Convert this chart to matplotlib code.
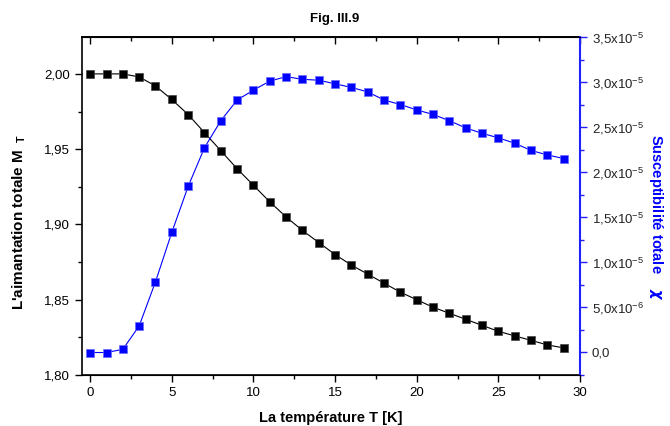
import numpy as np
import matplotlib
matplotlib.use("Agg")
import matplotlib.pyplot as plt
from matplotlib.ticker import MultipleLocator, FuncFormatter, NullFormatter

plt.rcParams['font.family'] = ['Liberation Sans', 'DejaVu Sans']
plt.rcParams['mathtext.fontset'] = 'custom'
plt.rcParams['mathtext.rm'] = 'Liberation Sans'
plt.rcParams['mathtext.bf'] = 'Liberation Sans:bold'
plt.rcParams['mathtext.bfit'] = 'DejaVu Sans:italic:bold'

# temperature T [K]
T = list(range(30))

# total magnetisation M_T (left axis)
M = [2.000, 2.000, 2.000, 1.998, 1.992, 1.983, 1.973, 1.961, 1.949, 1.937,
     1.926, 1.915, 1.905, 1.896, 1.888, 1.880, 1.873, 1.867, 1.861, 1.855,
     1.850, 1.845, 1.841, 1.837, 1.833, 1.829, 1.826, 1.823, 1.820, 1.818]

# total susceptibility chi (right axis)
chi = [-0.05e-6, -0.05e-6, 0.3e-6, 2.9e-6, 7.8e-6, 13.3e-6, 18.4e-6, 22.7e-6,
       25.7e-6, 28.0e-6, 29.1e-6, 30.1e-6, 30.6e-6, 30.3e-6, 30.2e-6, 29.8e-6,
       29.4e-6, 28.9e-6, 28.0e-6, 27.5e-6, 26.9e-6, 26.4e-6, 25.7e-6, 24.9e-6,
       24.3e-6, 23.8e-6, 23.2e-6, 22.4e-6, 21.9e-6, 21.5e-6]


def comma(v, pos):
    return ("%.2f" % v).replace(".", ",")


def sci(v, pos):
    if abs(v) < 1e-12:
        return "0,0"
    e = int(np.floor(np.log10(abs(v)) + 1e-9))
    m = v / 10 ** e
    return ("%.1f" % m).replace(".", ",") + "x10$^{%d}$" % e


fig = plt.figure(figsize=(6.7, 4.26), dpi=100)
ax = fig.add_axes([0.1224, 0.1197, 0.7433, 0.7934])
ax2 = ax.twinx()

ax.plot(T, M, '-', color='black', lw=0.8, marker='s', ms=6,
        mfc='black', mec='#444444', mew=0.5, zorder=3)
ax2.plot(T, chi, '-', color='#0000ff', lw=0.8, marker='s', ms=6,
         mfc='#0000ff', mec='#6a6aff', mew=0.5, zorder=3)

ax.set_xlim(-0.5, 30)
ax.set_ylim(1.80, 2.0245)
ax2.set_ylim(-2.55e-6, 3.5e-5)

ax.xaxis.set_major_locator(MultipleLocator(5))
ax.xaxis.set_minor_locator(MultipleLocator(2.5))
ax.yaxis.set_major_locator(MultipleLocator(0.05))
ax.yaxis.set_minor_locator(MultipleLocator(0.025))
ax.yaxis.set_major_formatter(FuncFormatter(comma))
ax2.yaxis.set_major_locator(MultipleLocator(5e-6))
ax2.yaxis.set_minor_locator(MultipleLocator(2.5e-6))
ax2.yaxis.set_major_formatter(FuncFormatter(sci))

# top axis: ticks pointing inward, no labels
top = ax.secondary_xaxis('top')
top.xaxis.set_major_locator(MultipleLocator(5))
top.xaxis.set_minor_locator(MultipleLocator(2.5))
top.xaxis.set_major_formatter(NullFormatter())
top.tick_params(which='major', direction='in', length=5, width=1)
top.tick_params(which='minor', direction='in', length=3, width=1)
top.spines['top'].set_linewidth(1.2)

ax.tick_params(axis='x', which='both', direction='out', labelsize=9.5)
ax.tick_params(axis='x', which='major', length=5, width=1)
ax.tick_params(axis='x', which='minor', length=3, width=1)
ax.tick_params(axis='y', which='major', direction='out', length=5, width=1, labelsize=9.5)
ax.tick_params(axis='y', which='minor', direction='out', length=3, width=1)
ax2.tick_params(axis='y', which='major', direction='out', length=5, width=1,
                colors='#2020ff', labelcolor='#222222', labelsize=9.5)
ax2.tick_params(axis='y', which='minor', direction='out', length=3, width=1,
                colors='#2020ff')

for s in ['left', 'bottom', 'top']:
    ax.spines[s].set_linewidth(1.2)
ax2.spines['right'].set_color('#2020ff')
ax2.spines['right'].set_linewidth(1.5)
ax2.spines['left'].set_visible(False)
ax.spines['right'].set_visible(False)

ax.set_xlabel("La température T [K]", fontsize=10.5, fontweight='bold', labelpad=9)
ax.set_ylabel(r"L'aimantation totale M$_{\ \ \mathbf{T}}$", fontsize=11,
              fontweight='bold')
ax.yaxis.set_label_coords(-0.108, 0.453)
ax2.set_ylabel(r"Susceptibilité totale    $\boldsymbol{\chi}$", fontsize=10.5,
               fontweight='bold', color='#0000ff', rotation=270)
ax2.yaxis.set_label_coords(1.17, 0.467)
fig.suptitle("Fig. III.9", x=0.5, y=0.97, fontsize=9.5, fontweight='bold')

fig.savefig("out.png", dpi=100)
